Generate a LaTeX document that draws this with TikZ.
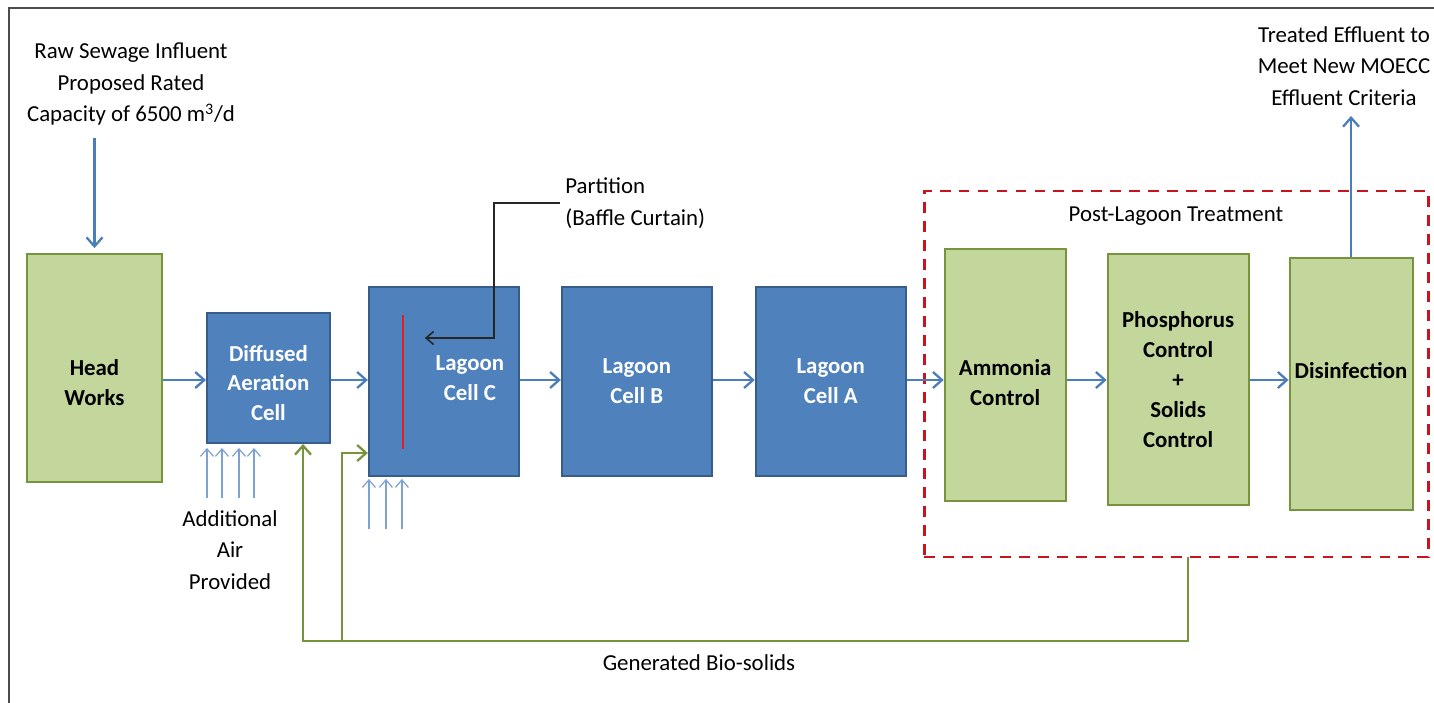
\documentclass[tikz,border=0pt]{standalone}
\usepackage{fontspec}
\setmainfont{Carlito}
\usetikzlibrary{positioning,arrows.meta}

\definecolor{cellblue}{HTML}{4F81BD}
\definecolor{cellline}{HTML}{385D8A}
\definecolor{unitgreen}{HTML}{C3D69B}
\definecolor{unitline}{HTML}{77933C}
\definecolor{flowblue}{HTML}{4A7EBB}
\definecolor{airblue}{HTML}{7DA2D2}
\definecolor{dashred}{HTML}{C8141E}
\definecolor{curtainred}{HTML}{E41E26}

\begin{document}
\begin{tikzpicture}
		[cell/.style={rectangle,draw=cellline,fill=cellblue,line width=1.1pt,text=white,inner sep=0pt,
			font=\bfseries\fontsize{13}{17}\selectfont,align=center},
		unit/.style={rectangle,draw=unitline,fill=unitgreen,line width=1.1pt,inner sep=0pt,
			font=\bfseries\fontsize{13}{17}\selectfont,align=center},
		celltext/.style={font=\bfseries\fontsize{13}{17}\selectfont,align=center,inner sep=0pt},
		flow/.style={draw=flowblue,line width=1.3pt,-{Straight Barb[length=1.8mm,width=3.2mm]}},
		air/.style={draw=airblue,line width=0.7pt,-{Straight Barb[length=1.5mm,width=2.6mm]}},
		sludge/.style={draw=unitline,line width=1.3pt,-{Straight Barb[length=1.8mm,width=3.2mm]}},
		note/.style={font=\fontsize{13}{18}\selectfont,align=center,inner sep=0pt}]
		\useasboundingbox (0,0) rectangle (28.68,-14.06);
		\draw [gray!60!black,line width=1.1pt] (0.18,-14.06) |- (28.68,-0.16);

		% treatment train
		\node [unit,minimum width=2.7cm,minimum height=4.56cm] (hw) at (1.89,-7.36) {};
		\node [cell,minimum width=2.46cm,minimum height=2.6cm] (dac) [right=0.86cm of hw,yshift=-0.2cm] {};
		\node [cell,minimum width=3cm,minimum height=3.78cm] (lc) [right=0.74cm of dac,yshift=-0.07cm] {};
		\node [cell,minimum width=3cm,minimum height=3.78cm] (lb) [right=0.82cm of lc] {Lagoon\\Cell B};
		\node [cell,minimum width=3cm,minimum height=3.78cm] (la) [right=0.84cm of lb] {Lagoon\\Cell A};
		\node [unit,minimum width=2.42cm,minimum height=5.04cm] (amm) [right=0.74cm of la,yshift=0.13cm] {};
		\node [unit,minimum width=2.82cm,minimum height=5.02cm] (phos) [right=0.8cm of amm,yshift=-0.09cm] {Phosphorus\\Control\\+\\Solids\\Control};
		\node [unit,minimum width=2.46cm,minimum height=5.04cm] (dis) [right=0.78cm of phos,yshift=-0.09cm] {};

		\node [celltext] (hwtext) at ([yshift=-0.3cm]hw.center) {Head\\Works};
		\node [celltext,text=white] (dactext) at ([yshift=-0.1cm]dac.center) {Diffused\\Aeration\\Cell};
		\node [celltext,text=white] (lctext) at ([xshift=0.52cm,yshift=0.07cm]lc.center) {Lagoon\\Cell C};
		\node [celltext] (ammtext) at ([yshift=-0.16cm]amm.center) {Ammonia\\Control};
		\node [celltext] (distext) at ([yshift=0.26cm]dis.center) {Disinfection};

		% post-lagoon box
		\node [draw=dashred,line width=1.7pt,dash pattern=on 6.2pt off 4.6pt,minimum width=10.08cm,minimum height=7.32cm] (post) at (23.52,-7.48) {};
		\node [note] (postlabel) at ([yshift=-0.54cm]post.north) {Post-Lagoon Treatment};

		\coordinate (flowline) at (0,-7.6);
		\draw [flow] (hw.east |- flowline) -- (dac.west |- flowline);
		\draw [flow] (dac.east |- flowline) -- (lc.west |- flowline);
		\draw [flow] (lc.east |- flowline) -- (lb.west |- flowline);
		\draw [flow] (lb.east |- flowline) -- (la.west |- flowline);
		\draw [flow] (la.east |- flowline) -- (amm.west |- flowline);
		\draw [flow] (amm.east |- flowline) -- (phos.west |- flowline);
		\draw [flow] (phos.east |- flowline) -- (dis.west |- flowline);

		% influent and effluent
		\node [note] (influent) at (2.62,-1.68) {Raw Sewage Influent\\Proposed Rated\\Capacity of 6500 m\textsuperscript{3}/d};
		\draw [flow,shorten >=0.1cm] ([yshift=-0.25cm]influent.south -| hw.north) -- (hw.north);
		\node [note] (effluent) at (26.88,-1.32) {Treated Effluent to\\Meet New MOECC\\Effluent Criteria};
		\draw [flow,shorten >=0.2cm] (dis.north) -- (dis.north |- effluent.south);

		% baffle curtain
		\coordinate (curtaintop) at ([xshift=-0.82cm,yshift=1.33cm]lc.center);
		\coordinate (curtainbot) at ([xshift=-0.82cm,yshift=-1.35cm]lc.center);
		\coordinate (curtaintip) at ([xshift=-0.38cm,yshift=0.87cm]lc.center);
		\draw [curtainred,line width=1.5pt] (curtaintop) -- (curtainbot);
		\node [note,align=left,anchor=west] (partition) at (11.3,-4.06) {Partition\\(Baffle Curtain)};
		\draw [black!85,line width=0.9pt,-{Straight Barb[length=1.5mm,width=2.6mm]}] ([xshift=-0.1cm]partition.west) -- ++(-1.32,0) |- (curtaintip);

		% aeration
		\foreach \dx in {0.02,0.32,0.66,0.96}
			\draw [air] ([xshift=\dx cm,yshift=-1.08cm]dac.south west) -- ([xshift=\dx cm,yshift=-0.08cm]dac.south west);
		\foreach \dx in {0.02,0.36,0.68}
			\draw [air] ([xshift=\dx cm,yshift=-1.04cm]lc.south west) -- ([xshift=\dx cm,yshift=-0.04cm]lc.south west);
		\node [note] (airlabel) at (4.6,-11.0) {Additional\\Air\\Provided};

		% bio-solids return
		\coordinate (solidsout) at (23.76,-11.14);
		\coordinate (returnend) at (6.06,-12.82);
		\coordinate (returntee) at (6.84,-12.82);
		\draw [sludge] (solidsout) |- (returnend) -- (returnend |- dac.south);
		\draw [sludge] (returntee) |- ([yshift=-1.43cm]lc.west);
		\node [note] (biosolids) at (13.98,-13.26) {Generated Bio-solids};

	\end{tikzpicture}
\end{document}
